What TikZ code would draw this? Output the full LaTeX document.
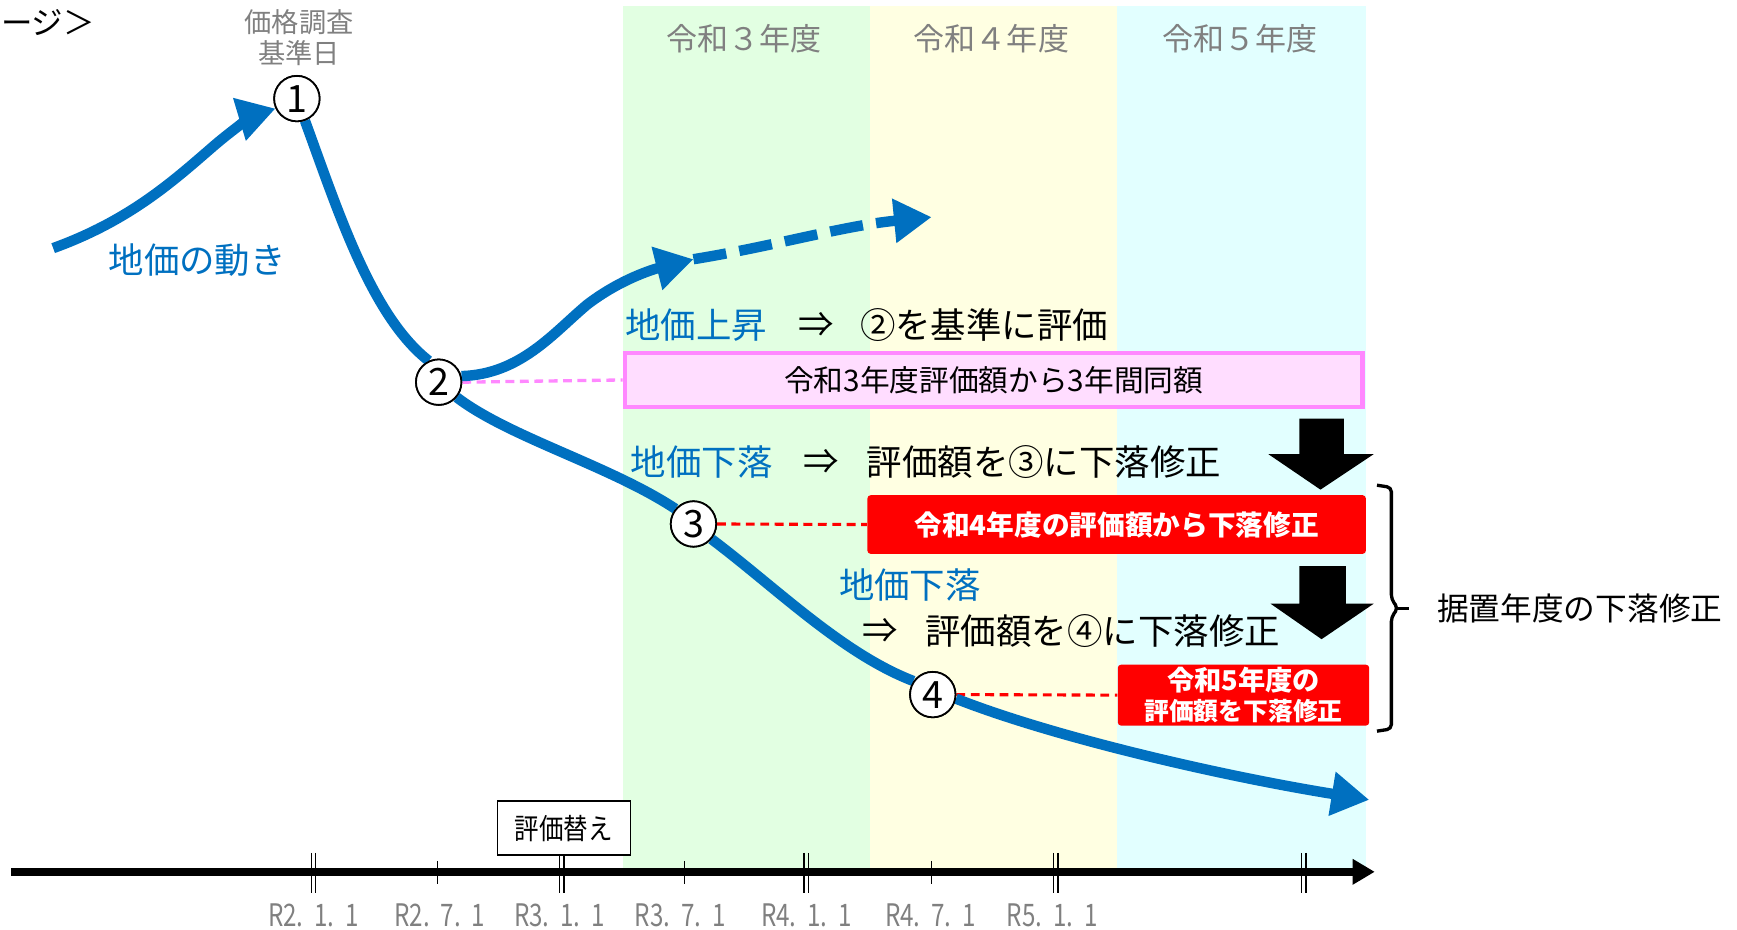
\documentclass[tikz,border=0pt]{standalone}
\usepackage{fontspec}
\setmainfont{Noto Sans CJK JP}
\usetikzlibrary{arrows.meta}
\definecolor{blueC}{HTML}{0070C0}
\definecolor{grayT}{HTML}{808080}
\definecolor{bandG}{HTML}{E2FFE2}
\definecolor{bandY}{HTML}{FFFFE2}
\definecolor{bandC}{HTML}{E2FFFF}
\definecolor{pinkF}{HTML}{FFDDFF}
\definecolor{pinkD}{HTML}{FF88FF}
\definecolor{redF}{HTML}{FF0000}
\newcommand{\fs}[1]{\fontsize{#1}{#1}\selectfont}
\newcommand{\tl}[3]{\scalebox{0.78}[1]{R#1.\hspace{0.45em}#2.\hspace{0.45em}#3}}
\begin{document}
\begin{tikzpicture}[x=0.5pt,y=-0.5pt,
  curve/.style={draw=blueC,line width=4.7pt},
  bigtip/.style={-{Triangle[length=17pt,width=19pt]}},
  circ/.style={circle,draw=black,line width=0.8pt,fill=white,inner sep=0pt,minimum size=20.5pt,font=\fs{17pt}},
  bluetxt/.style={text=blueC,font=\fs{16pt},inner sep=0pt},
  blacktxt/.style={text=black,font=\fs{16pt},inner sep=0pt},
  yeartxt/.style={text=grayT,font=\fs{14pt}},
  ticklab/.style={text=grayT,font=\fs{14pt},inner sep=0pt},
  redbox/.style={fill=redF,rounded corners=1.5pt,text=white,font=\bfseries\fs{12.5pt},inner sep=0pt,align=center},
  tickline/.style={line width=0.7pt,black},
  downarrow/.style={fill=black}
]
\useasboundingbox (0,0) rectangle (1568,839);
% bands
\fill[bandG] (562,5) rectangle (785,787);
\fill[bandY] (785,5) rectangle (1008,787);
\fill[bandC] (1008,5) rectangle (1233,787);
\node[yeartxt] (y3) at (672,35) {令和３年度};
\node[yeartxt] (y4) at (895,35) {令和４年度};
\node[yeartxt] (y5) at (1119,35) {令和５年度};

% top-left text
\node[anchor=east,font=\fs{14.2pt},inner sep=0pt] (img) at (86,20) {ージ＞};
\node[text=grayT,font=\fontsize{12.3pt}{14pt}\selectfont,align=center,inner sep=0pt] (kijun) at (270,34) {価格調査\\基準日};

% circles
\node[circ] (c1) at (268,89) {1};
\node[circ] (c2) at (396,345) {2};
\node[circ] (c3) at (626,473) {3};
\node[circ] (c4) at (842,627) {4};

% boxes
\node[draw=pinkD,fill=pinkF,line width=2pt,minimum width=333pt,minimum height=24.5pt,inner sep=0pt,font=\fs{13.4pt}] (pink) at (897,343) {令和3年度評価額から3年間同額};
\node[redbox,minimum width=225pt,minimum height=26.5pt] (red1) at (1008,473.5) {令和4年度の評価額から下落修正};
\node[redbox,minimum width=113.5pt,minimum height=27.5pt,font=\bfseries\fontsize{12.3pt}{13.5pt}\selectfont] (red2) at (1122.5,627.5) {令和5年度の\\{\fontsize{11.2pt}{13.5pt}\selectfont 評価額を下落修正}};

% dashed connectors
\draw[pinkD,line width=1.5pt,dash pattern=on 4pt off 2.5pt] (c2.east) -- (pink.west);
\draw[redF,line width=1.4pt,dash pattern=on 4pt off 2.5pt] (c3.east) -- (red1.west);
\draw[redF,line width=1.4pt,dash pattern=on 4pt off 2.5pt] (c4.east) -- (red2.west);

% blue curves
\coordinate (s1) at (48,224);
\coordinate (t2) at (626,234);
\coordinate (t3) at (841,196);
\coordinate (t4) at (1236,722);
\draw[curve,bigtip] (s1) .. controls (120,198) and (160,160) .. (195,130) .. controls (215,113) and (232,103) .. (c1.205);
\draw[curve] (c1.-70) .. controls (305,190) and (335,285) .. (c2.115);
\draw[curve,bigtip] (c2.15) .. controls (470,338) and (500,300) .. (530,275) .. controls (560,252) and (590,243) .. (t2);
\draw[curve,bigtip,dash pattern=on 15pt off 6pt] (t2) .. controls (700,222) and (760,204) .. (t3);
\draw[curve] (c2.-40) .. controls (460,395) and (550,420) .. (c3.140);
\draw[curve] (c3.-40) .. controls (700,530) and (760,590) .. (c4.145);
\draw[curve,bigtip] (c4.-10) .. controls (950,665) and (1100,700) .. (t4);
% redraw circles on top
\node[circ] at (c1) {1};
\node[circ] at (c2) {2};
\node[circ] at (c3) {3};
\node[circ] at (c4) {4};

\node[bluetxt] (move) at (178,235) {地価の動き};
\node[bluetxt,anchor=west] (up) at (564,293) {地価上昇};
\node[blacktxt] (imp1) at (737,293) {⇒};
\node[blacktxt,anchor=west] (up2) at (776,293) {②を基準に評価};
\node[bluetxt,anchor=west] (down1) at (569,417) {地価下落};
\node[blacktxt] (imp2) at (741,417) {⇒};
\node[blacktxt,anchor=west] (down1b) at (782,417) {評価額を③に下落修正};
\node[bluetxt,anchor=west] (down2) at (757,528) {地価下落};
\node[blacktxt] (imp3) at (795,570) {⇒};
\node[blacktxt,anchor=west] (down2b) at (835,570) {評価額を④に下落修正};

% black down arrows
\fill[downarrow] (1173,378) -- (1213,378) -- (1213,410) -- (1240,410) -- (1192,442) -- (1145,410) -- (1173,410) -- cycle;
\fill[downarrow] (1173,511) -- (1215,511) -- (1215,545) -- (1240,545) -- (1193,577) -- (1147,545) -- (1173,545) -- cycle;

% brace
\draw[line width=1.5pt,rounded corners=2pt] (1243,438) -- (1256,440) -- (1256,541) -- (1262,549) -- (1256,557) -- (1256,658) -- (1243,660);
\draw[line width=1.5pt] (1261,549) -- (1272,549);
\node[anchor=west,font=\fs{14.3pt},inner sep=0pt] (sue) at (1297,549) {据置年度の下落修正};

% axis
\coordinate (ax0) at (10,787);
\coordinate (ax1) at (1241,787);
\draw[line width=3.5pt,-{Triangle[length=10pt,width=11pt]}] (ax0) -- (ax1);
\foreach \x in {283,507,728,953,1177} {
  \draw[tickline] (\x-2,770) -- (\x-2,806);
  \draw[tickline] (\x+2,770) -- (\x+2,806);
}
\foreach \x in {395,618,841} {
  \draw[tickline] (\x,777) -- (\x,798);
}
\node[draw=black,fill=white,line width=0.7pt,minimum width=60pt,minimum height=24.5pt,inner sep=0pt,font=\fs{13pt}] (kae) at (509,747.5) {\scalebox{0.85}[1]{評価替え}};
\node[ticklab] (l1) at (283,826) {\tl{2}{1}{1}};
\node[ticklab] (l2) at (397,826) {\tl{2}{7}{1}};
\node[ticklab] (l3) at (505,826) {\tl{3}{1}{1}};
\node[ticklab] (l4) at (614,826) {\tl{3}{7}{1}};
\node[ticklab] (l5) at (728,826) {\tl{4}{1}{1}};
\node[ticklab] (l6) at (840,826) {\tl{4}{7}{1}};
\node[ticklab] (l7) at (950,826) {\tl{5}{1}{1}};
\end{tikzpicture}
\end{document}
